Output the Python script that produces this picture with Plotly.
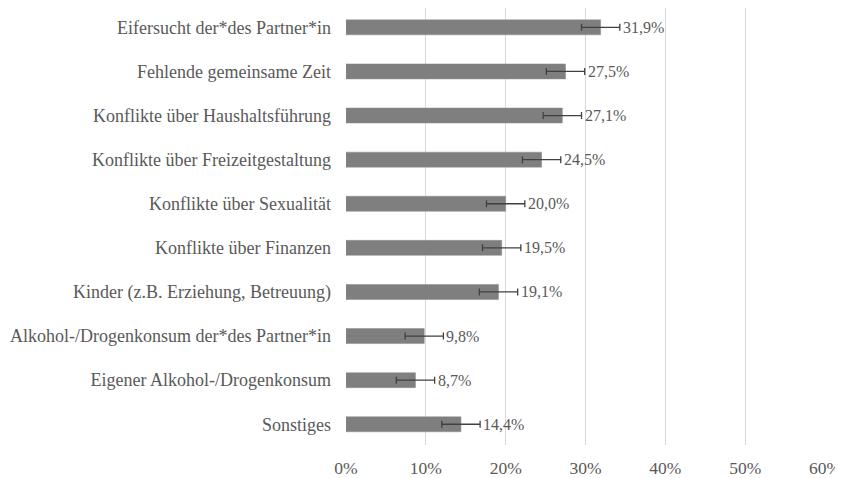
import plotly.graph_objects as go

categories = [
    "Eifersucht der*des Partner*in",
    "Fehlende gemeinsame Zeit",
    "Konflikte über Haushaltsführung",
    "Konflikte über Freizeitgestaltung",
    "Konflikte über Sexualität",
    "Konflikte über Finanzen",
    "Kinder (z.B. Erziehung, Betreuung)",
    "Alkohol-/Drogenkonsum der*des Partner*in",
    "Eigener Alkohol-/Drogenkonsum",
    "Sonstiges",
]
values = [31.9, 27.5, 27.1, 24.5, 20.0, 19.5, 19.1, 9.8, 8.7, 14.4]
errors = [2.4, 2.4, 2.4, 2.4, 2.4, 2.4, 2.4, 2.4, 2.4, 2.4]
value_labels = ["31,9%", "27,5%", "27,1%", "24,5%", "20,0%", "19,5%", "19,1%", "9,8%", "8,7%", "14,4%"]
tick_vals = [0, 10, 20, 30, 40, 50, 60]
tick_text = ["0%", "10%", "20%", "30%", "40%", "50%", "60%"]

FONT = "Liberation Serif"
TXT = "#595959"

fig = go.Figure()
fig.add_trace(go.Bar(
    x=values, y=categories, orientation="h",
    width=0.34,
    marker=dict(color="#7f7f7f", line=dict(color="#8c8c8c", width=0.5)),
    error_x=dict(type="data", array=errors, visible=True,
                 color="#404040", thickness=1.3, width=3.5),
    hoverinfo="skip",
))

for v, e, c, t in zip(values, errors, categories, value_labels):
    fig.add_annotation(x=v + e, y=c, text=t, showarrow=False,
                       xanchor="left", yanchor="middle", xshift=1,
                       font=dict(family=FONT, size=16, color=TXT))

fig.update_layout(
    width=835, height=470,
    margin=dict(l=338, r=18, t=0, b=33),
    paper_bgcolor="white", plot_bgcolor="white",
    showlegend=False,
    font=dict(family=FONT, color=TXT),
    xaxis=dict(range=[0, 60], tickvals=tick_vals, ticktext=tick_text,
               showgrid=True, gridcolor="#d9d9d9", gridwidth=1,
               zeroline=False, showline=False, ticks="",
               ticklabelstandoff=10, automargin=False,
               tickfont=dict(family=FONT, size=17.5, color=TXT)),
    yaxis=dict(categoryorder="array", categoryarray=categories,
               range=[9.47, -0.438], showgrid=False, zeroline=False,
               showline=False, ticks="", ticklabelstandoff=14,
               automargin=False,
               tickfont=dict(family=FONT, size=18, color=TXT)),
)

fig.write_html("out.html")
